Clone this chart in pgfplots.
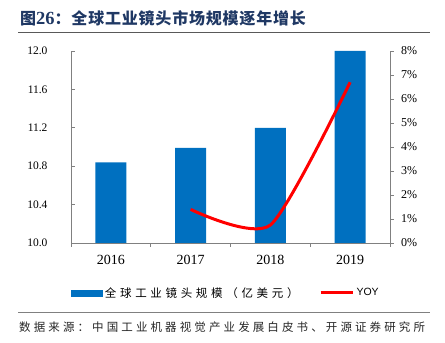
\documentclass[border=0pt]{standalone}
\usepackage{fontspec}
\setmainfont{Liberation Serif}
\newfontfamily\cjk{Noto Sans CJK SC}
\newfontfamily\arial{Liberation Sans}
\usepackage{pgfplots}
\pgfplotsset{compat=1.18}
\definecolor{barblue}{HTML}{0070C0}
\definecolor{titleblue}{HTML}{1F3864}
\definecolor{axgray}{HTML}{808080}
\begin{document}
\begin{tikzpicture}
\useasboundingbox (0,0) rectangle (445bp,343bp);
\node[anchor=west, text=titleblue, inner sep=0pt] at (20bp,324.5bp)
  {\fontsize{16bp}{18bp}\selectfont\bfseries{\cjk 图}{\fontsize{18.5bp}{18bp}\selectfont 26}{\cjk\addfontfeatures{LetterSpace=5}：全球工业镜头市场规模逐年增长}};
\draw[black!65, line width=1bp] (18bp,310bp) -- (430bp,310bp);
\draw[black!50, line width=1bp] (18bp,30bp) -- (430bp,30bp);
\node[anchor=west, inner sep=0pt, text=black!85] at (19bp,16bp)
  {\fontsize{11.5bp}{13bp}\selectfont\cjk\addfontfeatures{LetterSpace=27}数据来源：中国工业机器视觉产业发展白皮书、开源证券研究所};

\begin{axis}[
  at={(71bp,100bp)}, anchor=south west, scale only axis,
  width=319bp, height=192bp,
  xmin=0.5, xmax=4.5, ymin=10, ymax=12,
  axis x line*=bottom, axis y line*=left,
  axis line style={axgray, line width=0.8bp},
  tick align=inside, major tick length=4bp, minor tick length=4bp,
  xtick={1,2,3,4}, xticklabels={2016,2017,2018,2019},
  major x tick style={draw=none},
  minor xtick={0.5,1.5,2.5,3.5,4.5},
  minor x tick style={axgray, line width=0.8bp, yshift=-4bp},
  x tick label style={font=\fontsize{14bp}{16bp}\selectfont, yshift=-8.5bp},
  ytick={10,10.4,10.8,11.2,11.6,12},
  y tick style={axgray, line width=0.8bp},
  y tick label style={font=\fontsize{11.5bp}{13bp}\selectfont, xshift=-20bp,
    /pgf/number format/.cd, fixed, fixed zerofill, precision=1, assume math mode=true},
  clip=true,
]
\addplot[ybar, bar width=31bp, fill=barblue, draw=none]
  coordinates {(1,10.84) (2,10.99) (3,11.20) (4,12.00)};
\end{axis}

\begin{axis}[
  at={(71bp,100bp)}, anchor=south west, scale only axis,
  width=319bp, height=192bp,
  xmin=0.5, xmax=4.5, ymin=0, ymax=8,
  axis x line=none, axis y line*=right,
  axis line style={axgray, line width=0.8bp},
  tick align=outside, major tick length=4bp,
  ytick={0,1,2,3,4,5,6,7,8},
  y tick style={axgray, line width=0.8bp},
  yticklabel={\pgfmathprintnumber[assume math mode=true]{\tick}\%},
  y tick label style={font=\fontsize{12bp}{14bp}\selectfont, xshift=3.5bp},
  legend columns=2,
  legend style={at={(0,-0.26)}, anchor=west, draw=none, fill=none,
    inner sep=0pt, outer sep=0pt,
    /tikz/every even column/.append style={column sep=18bp},
    nodes={inner sep=2.5bp}},
  legend cell align=left,
]
\addlegendimage{legend image code/.code={\fill[barblue] (0bp,-2.8bp) rectangle (31bp,2.8bp);}}
\addlegendentry{\fontsize{11.5bp}{13bp}\selectfont\cjk\addfontfeatures{LetterSpace=32}全球工业镜头规模（亿美元）}
\addplot[red, line width=3bp, smooth, tension=0.4,
  legend image code/.code={\draw[red, line width=3bp] (0bp,0bp) -- (32bp,0bp);}]
  coordinates {(2,1.40) (3,0.75) (4,6.70)};
\addlegendentry{\fontsize{10.5bp}{12bp}\selectfont\arial YOY}
\end{axis}
\end{tikzpicture}
\end{document}
